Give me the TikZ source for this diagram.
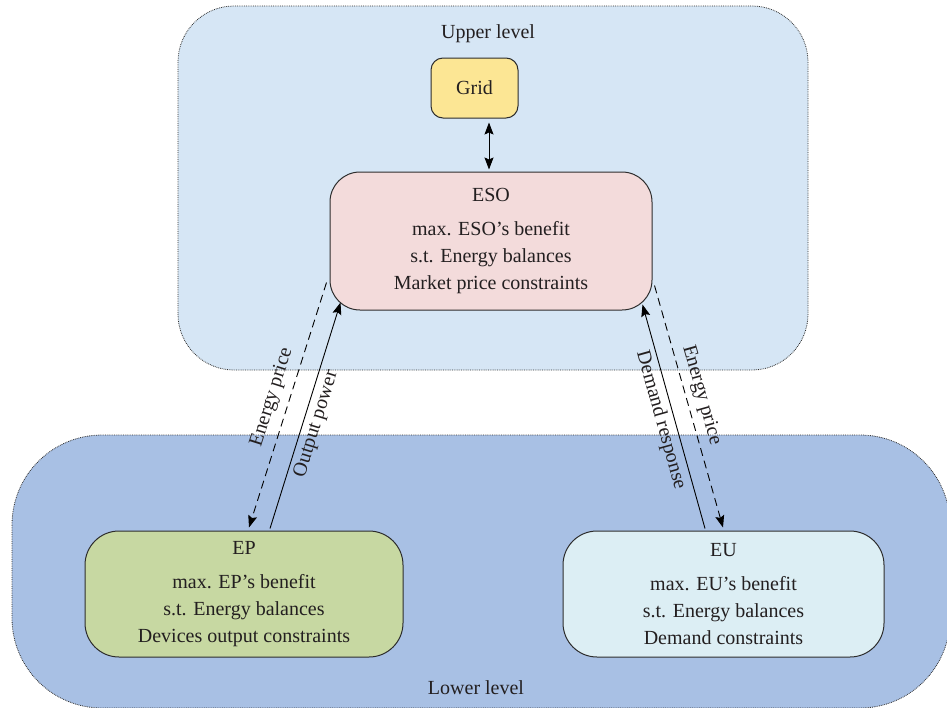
\documentclass[tikz,border=0pt]{standalone}
\usepackage{fontspec}
\setmainfont{Liberation Serif}
\usetikzlibrary{arrows.meta,calc}
\definecolor{upfill}{RGB}{214,230,245}
\definecolor{lowfill}{RGB}{168,192,228}
\definecolor{gridfill}{RGB}{252,230,148}
\definecolor{esofill}{RGB}{243,219,219}
\definecolor{epfill}{RGB}{199,216,162}
\definecolor{eufill}{RGB}{220,238,244}
\definecolor{edge}{RGB}{45,45,45}
\definecolor{ink}{RGB}{35,31,32}
\tikzset{
  levelbox/.style={draw=edge, densely dotted, line width=0.8pt},
  agent/.style={draw=edge, line width=1pt, align=center, inner sep=0pt, text=ink,
     font=\fontsize{20}{27}\selectfont},
  lbl/.style={text=ink, font=\fontsize{20}{24}\selectfont, inner sep=1pt, sloped},
  tip/.style={-{Stealth[length=12pt,width=9pt,inset=2pt]}},
  conn/.style={draw=black, line width=0.9pt},
  dashline/.style={dash pattern=on 8pt off 5pt},
}
\begin{document}
\begin{tikzpicture}[x=1pt,y=-1pt]
\useasboundingbox (0,0) rectangle (947,707);
% level regions
\draw[levelbox, fill=upfill, rounded corners=56pt] (178,6) rectangle (808,370);
\draw[levelbox, fill=lowfill, rounded corners=90pt] (12,435) rectangle (950,708);
\node[text=ink, font=\fontsize{20}{24}\selectfont] (upper) at (488,34) {Upper level};
\node[text=ink, font=\fontsize{20}{24}\selectfont] (lower) at (476,688) {Lower level};
% agents
\node[agent, fill=gridfill, rounded corners=12pt, minimum width=87pt, minimum height=60pt] (grid) at (474.5,88) {Grid};
\node[agent, fill=esofill, rounded corners=30pt, minimum width=322pt, minimum height=138pt] (eso) at (491,241)
  {ESO\\[7pt]max. ESO's benefit\\s.t. Energy balances\\Market price constraints};
\node[agent, fill=epfill, rounded corners=34pt, minimum width=318pt, minimum height=126pt] (ep) at (244,594)
  {EP\\[7pt]max. EP's benefit\\s.t. Energy balances\\Devices output constraints};
\node[agent, fill=eufill, rounded corners=34pt, minimum width=321pt, minimum height=126pt] (eu) at (723.5,594)
  {EU\\[7pt]max. EU's benefit\\s.t. Energy balances\\Demand constraints};
% connectors
\draw[conn, {Stealth[length=12pt,width=9pt,inset=2pt]}-{Stealth[length=12pt,width=9pt,inset=2pt]}]
  ($(grid.south)+(14.5,4)$) -- ($(eso.north)+(-2,-2)$);
\coordinate (epdash) at ($(ep.north)+(5,-3)$);
\coordinate (epsolid) at ($(ep.north)+(26,-2)$);
\coordinate (esoL1) at ($(eso.south west)+(-3,-28)$);
\coordinate (esoL2) at ($(eso.south west)+(11,-8)$);
\coordinate (esoR1) at ($(eso.south east)+(-10,-6)$);
\coordinate (esoR2) at ($(eso.south east)+(2,-25)$);
\coordinate (eusolid) at ($(eu.north)+(-18.5,-2)$);
\coordinate (eudash) at ($(eu.north)+(-0.5,-3)$);
\draw[conn, tip, dashline] (esoL1) -- node[lbl, pos=0.49, above=7pt] {Energy price} (epdash);
\draw[conn, tip] (epsolid) -- node[lbl, pos=0.48, below=3pt] {Output power} (esoL2);
\draw[conn, tip] (eusolid) -- node[lbl, pos=0.5, below=3pt] {Demand response} (esoR1);
\draw[conn, tip, dashline] (esoR2) -- node[lbl, pos=0.47, above=5pt] {Energy price} (eudash);
\end{tikzpicture}
\end{document}
